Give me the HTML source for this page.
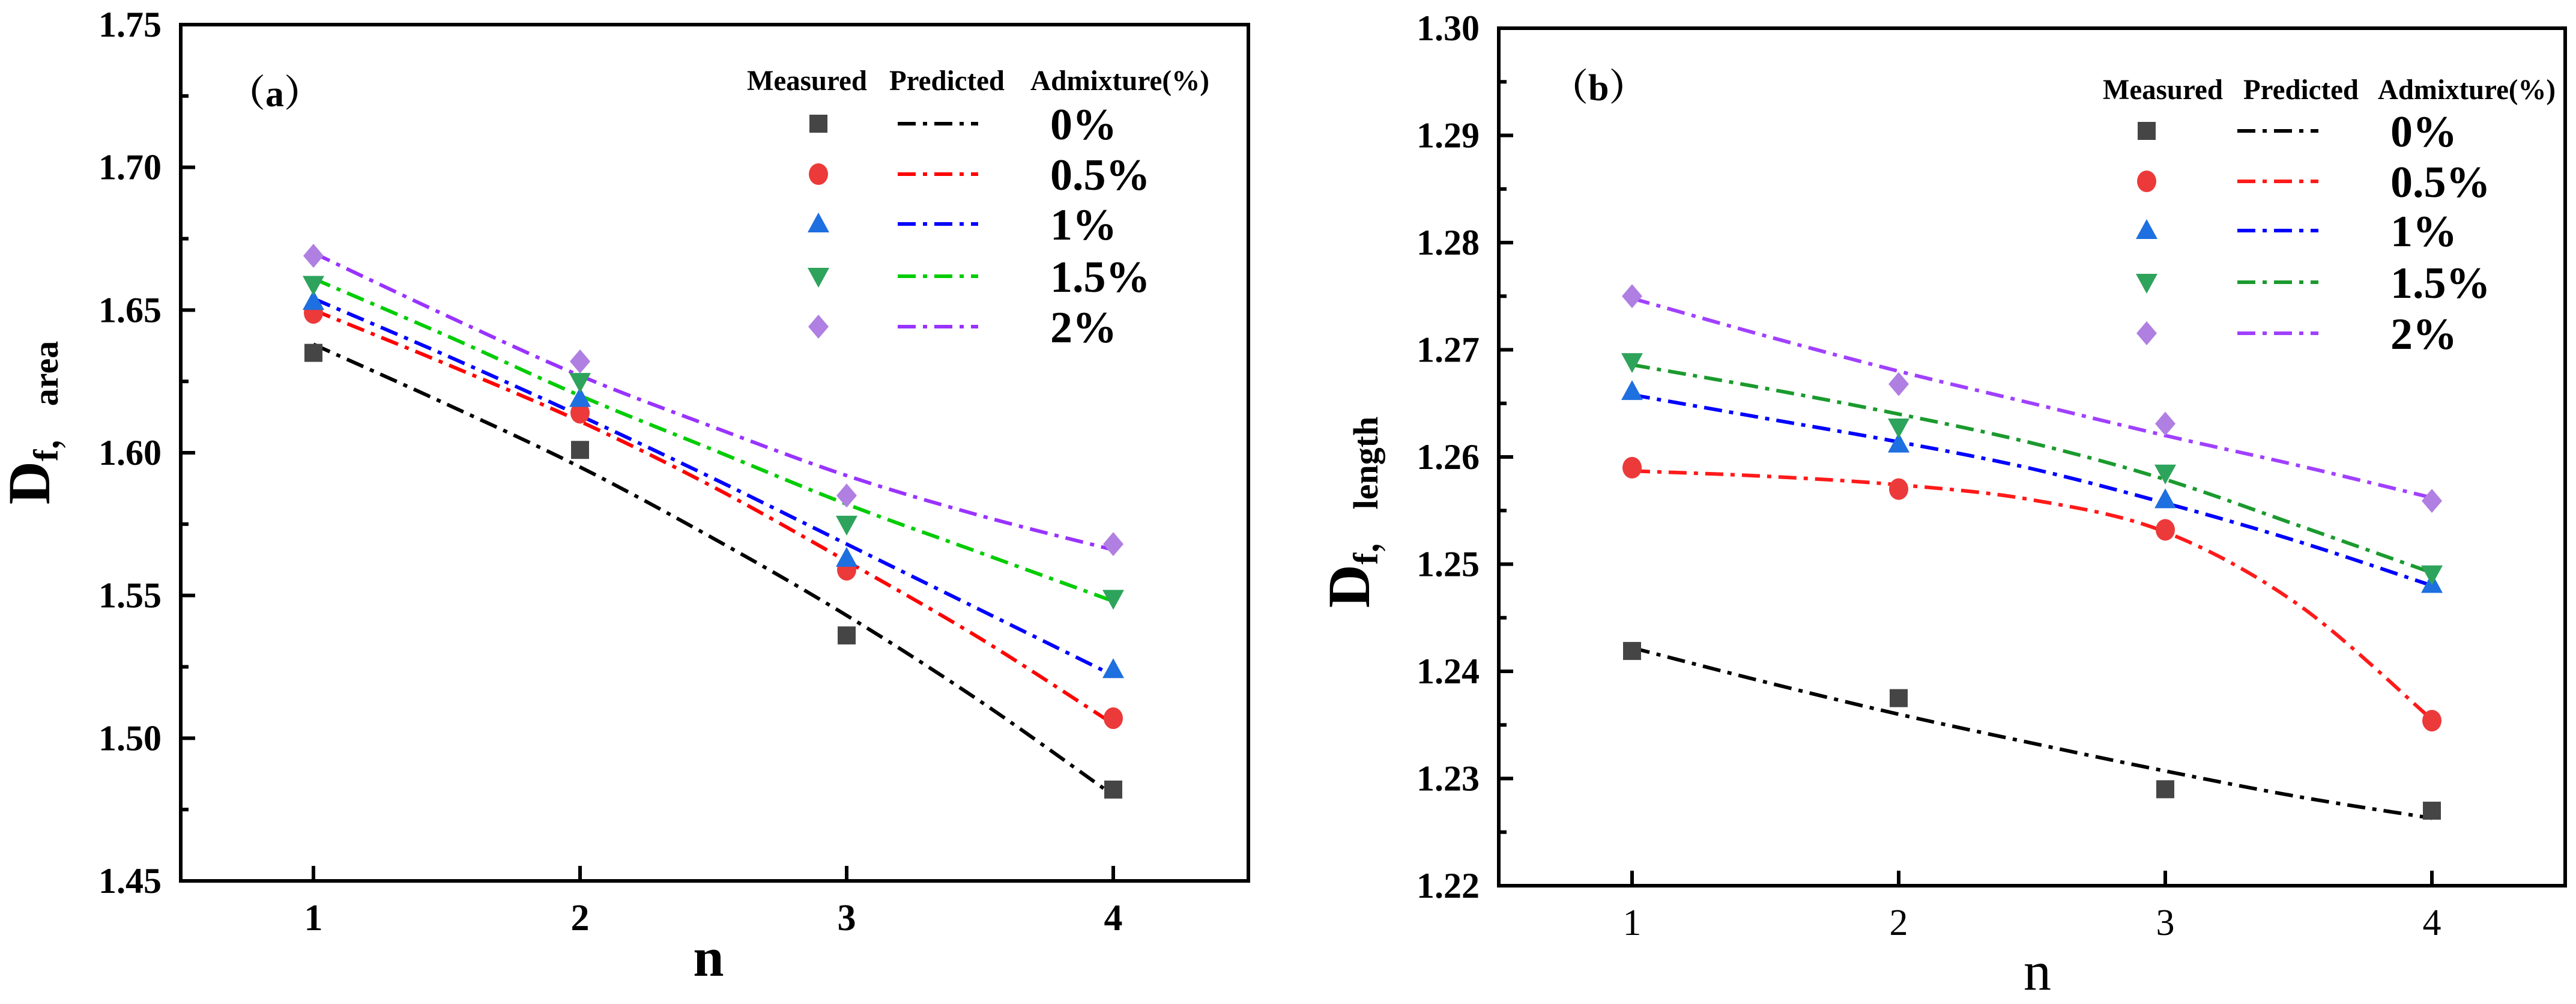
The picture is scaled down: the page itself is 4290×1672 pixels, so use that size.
<!DOCTYPE html>
<html><head><meta charset="utf-8"><style>
html,body{margin:0;padding:0;background:#fff;}
svg{display:block;}
text{font-family:"Liberation Serif","Noto Serif CJK SC",serif;}
</style></head><body>
<svg id="chart" width="4290" height="1672" viewBox="0 0 4290 1672" xmlns="http://www.w3.org/2000/svg"></svg>
<script>
// ---- data ----
const nValues = [1, 2, 3, 4];
const predX = [1, 1.5, 2, 2.5, 3, 3.5, 4];
const seriesNames = ["0%", "0.5%", "1%", "1.5%", "2%"];

const areaMeasured0 = [1.635, 1.601, 1.536, 1.482];
const areaMeasured05 = [1.649, 1.614, 1.559, 1.507];
const areaMeasured1 = [1.653, 1.619, 1.563, 1.524];
const areaMeasured15 = [1.659, 1.625, 1.575, 1.549];
const areaMeasured2 = [1.669, 1.632, 1.585, 1.568];
const areaPred0 = [1.638, 1.617, 1.595, 1.570, 1.543, 1.513, 1.480];
const areaPred05 = [1.650, 1.631, 1.611, 1.588, 1.562, 1.535, 1.505];
const areaPred1 = [1.654, 1.634, 1.613, 1.591, 1.568, 1.545, 1.522];
const areaPred15 = [1.661, 1.641, 1.620, 1.601, 1.582, 1.565, 1.548];
const areaPred2 = [1.670, 1.648, 1.627, 1.609, 1.592, 1.578, 1.566];

const lenMeasured0 = [1.2419, 1.2375, 1.2290, 1.2270];
const lenMeasured05 = [1.2590, 1.2570, 1.2532, 1.2354];
const lenMeasured1 = [1.2661, 1.2612, 1.2560, 1.2481];
const lenMeasured15 = [1.2689, 1.2628, 1.2585, 1.2491];
const lenMeasured2 = [1.2750, 1.2668, 1.2631, 1.2559];
const lenPred0 = [1.2422, 1.2390, 1.2360, 1.2333, 1.2307, 1.2283, 1.2263];
const lenPred05 = [1.2587, 1.2582, 1.2574, 1.2560, 1.2530, 1.2462, 1.2355];
const lenPred1 = [1.2658, 1.2636, 1.2614, 1.2589, 1.2557, 1.2521, 1.2480];
const lenPred15 = [1.2686, 1.2664, 1.2640, 1.2613, 1.2579, 1.2536, 1.2492];
const lenPred2 = [1.2748, 1.2713, 1.2680, 1.2650, 1.2620, 1.2592, 1.2562];

const areaYTicks = ["1.45", "1.50", "1.55", "1.60", "1.65", "1.70", "1.75"];
const lenYTicks = ["1.22", "1.23", "1.24", "1.25", "1.26", "1.27", "1.28", "1.29", "1.30"];
const xTickLabels = ["1", "2", "3", "4"];

const NS = "http://www.w3.org/2000/svg";
const svg = document.getElementById("chart");
function mk(tag, attrs, parent) {
  const e = document.createElementNS(NS, tag);
  for (const k in attrs) e.setAttribute(k, attrs[k]);
  (parent || svg).appendChild(e);
  return e;
}
const markerColors = ["#454545", "#ec3a3a", "#1e6fe0", "#2ea35c", "#b07fe2"];
const markerShapes = ["square", "circle", "tri", "dtri", "diamond"];

function drawMarker(g, shape, cx, cy, color) {
  let el;
  if (shape === "square") el = mk("rect", {x: cx - 15, y: cy - 15, width: 30, height: 30, fill: color}, g);
  else if (shape === "circle") el = mk("ellipse", {cx: cx, cy: cy, rx: 16, ry: 18, fill: color}, g);
  else if (shape === "tri") el = mk("polygon", {points: `${cx},${cy-19} ${cx+18},${cy+14} ${cx-18},${cy+14}`, fill: color}, g);
  else if (shape === "dtri") el = mk("polygon", {points: `${cx},${cy+19} ${cx+18},${cy-14} ${cx-18},${cy-14}`, fill: color}, g);
  else el = mk("polygon", {points: `${cx},${cy-20} ${cx+17},${cy} ${cx},${cy+20} ${cx-17},${cy}`, fill: color}, g);
  
  
}

function spline(pts) {
  let d = `M${pts[0][0]},${pts[0][1]}`;
  for (let i = 0; i < pts.length - 1; i++) {
    const p0 = pts[Math.max(0, i - 1)], p1 = pts[i], p2 = pts[i + 1], p3 = pts[Math.min(pts.length - 1, i + 2)];
    const c1 = [p1[0] + (p2[0] - p0[0]) / 6, p1[1] + (p2[1] - p0[1]) / 6];
    const c2 = [p2[0] - (p3[0] - p1[0]) / 6, p2[1] - (p3[1] - p1[1]) / 6];
    d += ` C${c1[0]},${c1[1]} ${c2[0]},${c2[1]} ${p2[0]},${p2[1]}`;
  }
  return d;
}

function panel(cfg) {
  const g = mk("g", {});
  
  
  const X = v => cfg.x1 + (v - 1) * cfg.xStep;
  const Y = v => cfg.bottom - (v - cfg.yMin) / (cfg.yMax - cfg.yMin) * (cfg.bottom - cfg.top);
  // y ticks
  const yt = cfg.yTicks;
  yt.forEach((lab, i) => {
    const v = parseFloat(lab);
    const y = Y(v);
    const t = mk("line", {x1: cfg.left, x2: cfg.left + 24, y1: y, y2: y, stroke: "#000", "stroke-width": 6}, g);
    
    
    if (i < yt.length - 1) {
      const ym = Y(v + (parseFloat(yt[1]) - parseFloat(yt[0])) / 2);
      const m = mk("line", {x1: cfg.left, x2: cfg.left + 13, y1: ym, y2: ym, stroke: "#000", "stroke-width": 6}, g);
      
      
    }
    const tx = mk("text", {x: cfg.left - 32, y: y + 20, "text-anchor": "end", "font-size": 60, "font-weight": "bold"}, g);
    tx.textContent = lab;
    
    
  });
  // x ticks
  xTickLabels.forEach((lab, i) => {
    const x = X(nValues[i]);
    const t = mk("line", {x1: x, x2: x, y1: cfg.bottom, y2: cfg.bottom - 25, stroke: "#000", "stroke-width": 6}, g);
    
    
    const tx = mk("text", {x: x, y: cfg.bottom + 82, "text-anchor": "middle", "font-size": 62, "font-weight": cfg.xBold ? "bold" : "normal"}, g);
    tx.textContent = lab;
    
    
  });
  // predicted lines
  const lineColors = cfg.lineColors;
  cfg.pred.forEach((arr, s) => {
    const pts = arr.map((v, i) => [X(predX[i]), Y(v)]);
    const p = mk("path", {d: spline(pts), fill: "none", stroke: lineColors[s], "stroke-width": 6, "stroke-dasharray": "30 12 7 12"}, g);
    
    
  });
  // measured points
  cfg.meas.forEach((arr, s) => {
    arr.forEach((v, i) => drawMarker(g, markerShapes[s], X(nValues[i]), Y(v), markerColors[s]));
  });
  // frame
  const fr = mk("rect", {x: cfg.left, y: cfg.top, width: cfg.right - cfg.left, height: cfg.bottom - cfg.top, fill: "none", stroke: "#000", "stroke-width": 6}, g);
  
  
  // panel label
  const pl = mk("text", {x: cfg.tagX, y: cfg.tagY, "font-size": 62, "font-weight": "bold"}, g);
  pl.textContent = cfg.tag;
  
  
  // legend
  const lg = mk("g", {}, g);
  
  
  const heads = [["Measured", cfg.hx[0], cfg.hw[0]], ["Predicted", cfg.hx[1], cfg.hw[1]], ["Admixture(%)", cfg.hx[2], cfg.hw[2]]];
  heads.forEach(h => {
    const t = mk("text", {x: h[1], y: cfg.hy, "font-size": 48, "font-weight": "bold", textLength: h[2], lengthAdjust: "spacingAndGlyphs"}, lg);
    t.textContent = h[0];
    
    
  });
  seriesNames.forEach((nm, s) => {
    const y = cfg.rows[s];
    drawMarker(lg, markerShapes[s], cfg.mx, y, markerColors[s]);
    const l = mk("line", {x1: cfg.lx1, x2: cfg.lx2, y1: y, y2: y, stroke: lineColors[s], "stroke-width": 6, "stroke-dasharray": "30 12 7 12"}, lg);
    
    
    const t = mk("text", {x: cfg.tx, y: y + 26, "font-size": 74, "font-weight": "bold"}, lg);
    t.textContent = nm;
    
    
  });
  // axis titles
  const yt2 = mk("text", {transform: `translate(${cfg.ytX},${cfg.ytY}) rotate(-90)`, "text-anchor": "middle", "font-weight": "bold"}, g);
  
  
  const sD = mk("tspan", {"font-size": 100}, yt2); sD.textContent = "D";
  const sS = mk("tspan", {"font-size": 58, dy: 14}, yt2); sS.textContent = "f，  " + cfg.sub;
  const xt = mk("text", {x: cfg.xtX, y: cfg.xtY, "text-anchor": "middle", "font-size": 92, "font-weight": cfg.xBold ? "bold" : "normal"}, g);
  xt.textContent = "n";
  
  
}

panel({
  name: "panel-a-area", left: 301, right: 2079, top: 41, bottom: 1467,
  x1: 522, xStep: 444, yMin: 1.45, yMax: 1.75, yTicks: areaYTicks, xBold: true,
  meas: [areaMeasured0, areaMeasured05, areaMeasured1, areaMeasured15, areaMeasured2],
  pred: [areaPred0, areaPred05, areaPred1, areaPred15, areaPred2],
  lineColors: ["#000000", "#ff0000", "#0000ff", "#00cc00", "#9933ff"],
  tag: "（a）", tagX: 380, tagY: 177,
  hx: [1244, 1481, 1716], hw: [200, 192, 298], hy: 150,
  rows: [206, 290, 373, 460, 544], mx: 1363, lx1: 1495, lx2: 1629, tx: 1749,
  ytX: 82, ytY: 704, sub: "area", xtX: 1180, xtY: 1625
});
panel({
  name: "panel-b-length", left: 2496, right: 4272, top: 47, bottom: 1475,
  x1: 2718, xStep: 444, yMin: 1.22, yMax: 1.30, yTicks: lenYTicks, xBold: false,
  meas: [lenMeasured0, lenMeasured05, lenMeasured1, lenMeasured15, lenMeasured2],
  pred: [lenPred0, lenPred05, lenPred1, lenPred15, lenPred2],
  lineColors: ["#000000", "#ff1a1a", "#0000ff", "#1b9a2e", "#a040ff"],
  tag: "（b）", tagX: 2583, tagY: 167,
  hx: [3502, 3736, 3960], hw: [200, 192, 296], hy: 165,
  rows: [218, 302, 384, 470, 555], mx: 3575, lx1: 3726, lx2: 3861, tx: 3981,
  ytX: 2280, ytY: 853, sub: "length", xtX: 3393, xtY: 1648
});
</script>
</body></html>
